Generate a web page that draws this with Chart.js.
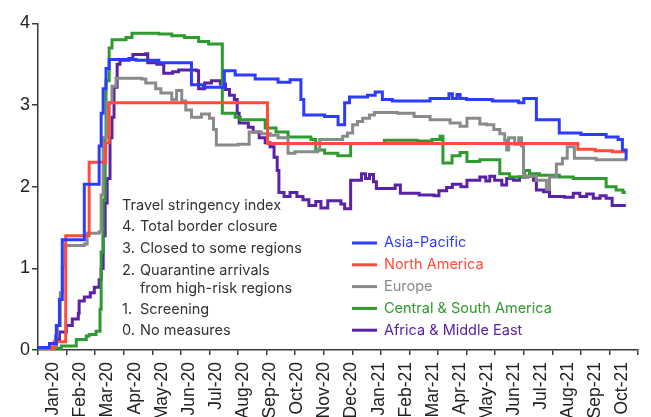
<!DOCTYPE html>
<html>
<head>
<meta charset="utf-8">
<script src="https://cdn.jsdelivr.net/npm/chart.js@4"></script>
<style>
  body { margin: 0; background: #fff; }
  canvas { display: block; }
</style>
</head>
<body>
<canvas id="stringencyChart" width="651" height="417"></canvas>
<script>
// Travel stringency index by region, Jan 2020 - Oct 2021
// x values are months since 1 Jan 2020, y is the index (0-4)

const monthLabels = ['Jan-20', 'Feb-20', 'Mar-20', 'Apr-20', 'May-20', 'Jun-20', 'Jul-20', 'Aug-20',
    'Sep-20', 'Oct-20', 'Nov-20', 'Dec-20', 'Jan-21', 'Feb-21', 'Mar-21', 'Apr-21', 'May-21',
    'Jun-21', 'Jul-21', 'Aug-21', 'Sep-21', 'Oct-21'];
const yTicks = [0, 1, 2, 3, 4];

const regionNames = ['Asia-Pacific', 'North America', 'Europe', 'Central & South America', 'Africa & Middle East'];
const regionColors = ['#2b3cff', '#ff4b3a', '#8a8a8a', '#2f9a2f', '#5b21a6'];

const asiaPacific = [[0, 0.03], [0.4, 0.08], [0.64, 0.3], [0.75, 0.62], [0.85, 1.35], [1.62, 2.03],
    [2.14, 2.5], [2.21, 2.9], [2.28, 3.2], [2.38, 3.45], [2.49, 3.56], [3.43, 3.55], [4.23, 3.52],
    [5.37, 3.25], [5.79, 3.22], [6.52, 3.42], [6.9, 3.37], [7.6, 3.32], [8.4, 3.28], [8.82, 3.31],
    [9.2, 3.07], [9.3, 2.88], [10.03, 2.86], [10.5, 2.76], [10.73, 3.03], [10.9, 3.1], [11.53, 3.12],
    [11.8, 3.16], [12.05, 3.07], [12.4, 3.05], [13.72, 3.08], [14.38, 3.14], [14.5, 3.08], [14.66, 3.13],
    [14.77, 3.08], [15.0, 3.07], [15.9, 3.05], [16.82, 3.03], [17.0, 3.08], [17.44, 2.82], [18.24, 2.66],
    [19.0, 2.64], [19.88, 2.61], [20.3, 2.58], [20.45, 2.45], [20.58, 2.33]];

const northAmerica = [[0, 0.02], [0.57, 0.1], [0.97, 1.4], [1.79, 2.3], [2.37, 2.54], [2.49, 3.03],
    [8.03, 2.53], [18.89, 2.46], [19.5, 2.44], [20.1, 2.43], [20.57, 2.42]];

const europe = [[0, 0.02], [0.5, 0.04], [0.61, 0.17], [0.68, 0.3], [0.78, 0.7], [0.85, 1.02], [0.96, 1.28],
    [1.62, 1.3], [1.72, 1.43], [2.14, 1.45], [2.21, 1.9], [2.28, 2.6], [2.42, 3.03], [2.59, 3.23],
    [2.73, 3.33], [3.63, 3.32], [3.77, 3.27], [4.12, 3.2], [4.3, 3.15], [4.68, 3.07], [4.85, 3.18],
    [5.03, 3.05], [5.17, 2.94], [5.37, 2.85], [5.72, 2.89], [6.0, 2.84], [6.14, 2.7], [6.24, 2.51],
    [7.0, 2.52], [7.39, 2.67], [7.81, 2.65], [8.13, 2.63], [8.4, 2.6], [8.75, 2.41], [8.99, 2.43],
    [9.79, 2.45], [9.86, 2.58], [10.66, 2.62], [10.83, 2.66], [11.01, 2.76], [11.18, 2.8], [11.36, 2.84],
    [11.6, 2.88], [11.77, 2.91], [12.57, 2.9], [13.16, 2.86], [13.72, 2.82], [14.42, 2.78], [14.77, 2.74],
    [15.01, 2.84], [15.46, 2.77], [15.7, 2.76], [15.95, 2.7], [16.16, 2.65], [16.33, 2.57], [16.4, 2.45],
    [16.47, 2.6], [16.68, 2.52], [16.82, 2.6], [16.92, 2.5], [16.99, 2.13], [17.44, 2.08], [17.79, 1.97],
    [17.9, 2.12], [18.14, 2.28], [18.35, 2.35], [18.52, 2.49], [18.77, 2.35], [19.53, 2.33], [20.57, 2.34]];

const centralSouthAmerica = [[0, 0.02], [0.82, 0.05], [1.34, 0.13], [1.69, 0.17], [1.79, 0.19], [2.03, 0.23],
    [2.17, 0.5], [2.21, 1.2], [2.28, 1.84], [2.35, 2.6], [2.38, 3.3], [2.49, 3.7], [2.59, 3.8], [3.08, 3.83],
    [3.29, 3.88], [4.23, 3.87], [4.68, 3.85], [5.13, 3.83], [5.62, 3.78], [5.97, 3.75], [6.45, 2.9],
    [6.9, 2.85], [7.08, 2.82], [7.95, 2.72], [8.33, 2.67], [8.75, 2.61], [9.55, 2.58], [9.72, 2.45],
    [10.03, 2.41], [10.49, 2.38], [10.94, 2.53], [12.12, 2.57], [13.27, 2.56], [13.79, 2.58], [14.07, 2.62],
    [14.17, 2.29], [14.49, 2.38], [14.77, 2.42], [15.01, 2.31], [15.46, 2.33], [16.16, 2.16], [16.5, 2.12],
    [17.03, 2.2], [17.2, 2.16], [17.55, 2.14], [18.24, 2.12], [18.73, 2.1], [19.63, 2.1], [19.88, 2.0],
    [20.23, 1.96], [20.47, 1.93], [20.57, 1.93]];

const africaMiddleEast = [[0, 0.02], [0.5, 0.03], [0.64, 0.12], [0.75, 0.22], [0.99, 0.3], [1.2, 0.38],
    [1.41, 0.45], [1.44, 0.6], [1.62, 0.65], [1.83, 0.7], [1.97, 0.77], [2.14, 0.86], [2.21, 1.0], [2.28, 1.4],
    [2.35, 1.8], [2.42, 2.1], [2.52, 2.6], [2.59, 2.85], [2.66, 3.22], [2.77, 3.5], [2.87, 3.55], [3.18, 3.57],
    [3.32, 3.62], [3.77, 3.63], [3.84, 3.52], [4.16, 3.5], [4.4, 3.39], [4.71, 3.41], [4.92, 3.43], [5.55, 3.42],
    [5.62, 3.2], [5.83, 3.27], [6.07, 3.3], [6.38, 3.26], [6.56, 3.19], [6.7, 3.12], [6.87, 3.07], [6.97, 2.9],
    [7.04, 2.78], [7.36, 2.73], [7.53, 2.67], [7.74, 2.6], [7.95, 2.54], [8.12, 2.49], [8.26, 2.36], [8.37, 2.2],
    [8.43, 1.93], [8.61, 1.88], [8.82, 1.93], [9.06, 1.88], [9.27, 1.84], [9.48, 1.77], [9.72, 1.82], [9.9, 1.74],
    [10.14, 1.83], [10.6, 1.79], [10.73, 1.73], [10.94, 2.08], [11.32, 2.16], [11.46, 2.1], [11.6, 2.15],
    [11.74, 2.06], [11.84, 1.98], [12.5, 2.02], [12.68, 1.92], [13.34, 1.9], [13.86, 1.89], [14.03, 1.95],
    [14.3, 1.99], [14.5, 2.03], [14.8, 2.0], [15.01, 2.08], [15.46, 2.12], [15.67, 2.07], [15.81, 2.13],
    [15.98, 2.08], [16.23, 2.02], [16.4, 2.1], [16.64, 2.08], [16.85, 2.12], [17.13, 2.13], [17.34, 2.08],
    [17.44, 1.96], [17.69, 1.94], [17.9, 1.88], [18.42, 1.87], [18.73, 1.92], [18.96, 1.88], [19.2, 1.91],
    [19.43, 1.86], [19.67, 1.89], [19.88, 1.86], [20.09, 1.77], [20.57, 1.77]];

const seriesData = [asiaPacific, northAmerica, europe, centralSouthAmerica, africaMiddleEast];

const keyTitle = 'Travel stringency index';
const keyLines = [['4.', 'Total border closure'], ['3.', 'Closed to some regions'],
    ['2.', 'Quarantine arrivals'], ['', 'from high-risk regions'], ['1.', 'Screening'], ['0.', 'No measures']];

const axisColor = '#3a3a3a';
const textFont = 'Inter, "Noto Sans", sans-serif';

// legend + index key drawn inside the plot area
const keyPlugin = {
    id: 'keyPlugin',
    afterDraw(chart) {
        const ctx = chart.ctx;
        ctx.save();
        ctx.font = '14.5px ' + textFont;
        ctx.textBaseline = 'middle';

        // index explanation block
        ctx.fillStyle = '#333';
        ctx.fillText(keyTitle, 122, 206);
        const keyY = [227, 249, 271, 289, 310, 331];
        keyLines.forEach((line, i) => {
            ctx.fillText(line[0], 122, keyY[i]);
            ctx.fillText(line[1], 140, keyY[i]);
        });

        // series legend
        chart.data.datasets.forEach((ds, i) => {
            const y = 243 + i * 21.8;
            ctx.strokeStyle = ds.borderColor;
            ctx.lineWidth = 3;
            ctx.beginPath();
            ctx.moveTo(352, y);
            ctx.lineTo(377, y);
            ctx.stroke();
            ctx.fillStyle = ds.borderColor;
            ctx.fillText(ds.label, 384, y);
        });
        ctx.restore();
    }
};

const ctx = document.getElementById('stringencyChart').getContext('2d');
const stringencyChart = new Chart(ctx, {
    type: 'line',
    data: {
        datasets: seriesData.map((pts, i) => ({
            label: regionNames[i],
            data: pts.map(p => ({ x: p[0], y: p[1] })),
            borderColor: regionColors[i],
            borderWidth: 3,
            stepped: 'before', // hold each value until the next change
            pointRadius: 0,
            fill: false
        }))
    },
    options: {
        responsive: false,
        animation: false,
        layout: {
            padding: { top: 23.5, right: 7.5, left: 0, bottom: 0 }
        },
        plugins: {
            legend: { display: false },
            tooltip: { enabled: false }
        },
        scales: {
            x: {
                type: 'linear',
                min: 0,
                max: 21,
                weight: 0,
                ticks: { stepSize: 1, display: false },
                grid: {
                    drawOnChartArea: false,
                    drawTicks: true,
                    tickLength: 5,
                    color: axisColor,
                    lineWidth: 1.5
                },
                border: { color: axisColor, width: 1.5 }
            },
            // month names sit on their own axis, spaced a bit tighter than the tick marks
            xLabels: {
                type: 'linear',
                position: 'bottom',
                min: -0.567,
                max: 21.57,
                weight: 1,
                afterBuildTicks: (scale) => {
                    scale.ticks = monthLabels.map((_, i) => ({ value: i }));
                },
                afterFit: (scale) => {
                    scale.height = 62; // labels run off the bottom like the original
                },
                ticks: {
                    autoSkip: false,
                    minRotation: 90,
                    maxRotation: 90,
                    padding: 7,
                    color: '#222',
                    font: { family: '"Liberation Sans", Arial, sans-serif', size: 17.5 },
                    callback: (v) => monthLabels[v]
                },
                grid: { display: false, drawTicks: false },
                border: { display: false }
            },
            y: {
                min: 0,
                max: 4,
                afterBuildTicks: (scale) => {
                    scale.ticks = yTicks.map(v => ({ value: v }));
                },
                afterFit: (scale) => {
                    scale.width = 38;
                },
                ticks: {
                    padding: 2,
                    color: '#222',
                    font: { family: '"Liberation Sans", Arial, sans-serif', size: 18 }
                },
                grid: {
                    drawOnChartArea: false,
                    tickLength: 6,
                    color: axisColor,
                    lineWidth: 1.5
                },
                border: { color: axisColor, width: 1.5 }
            }
        }
    },
    plugins: [keyPlugin]
});
</script>
</body>
</html>
